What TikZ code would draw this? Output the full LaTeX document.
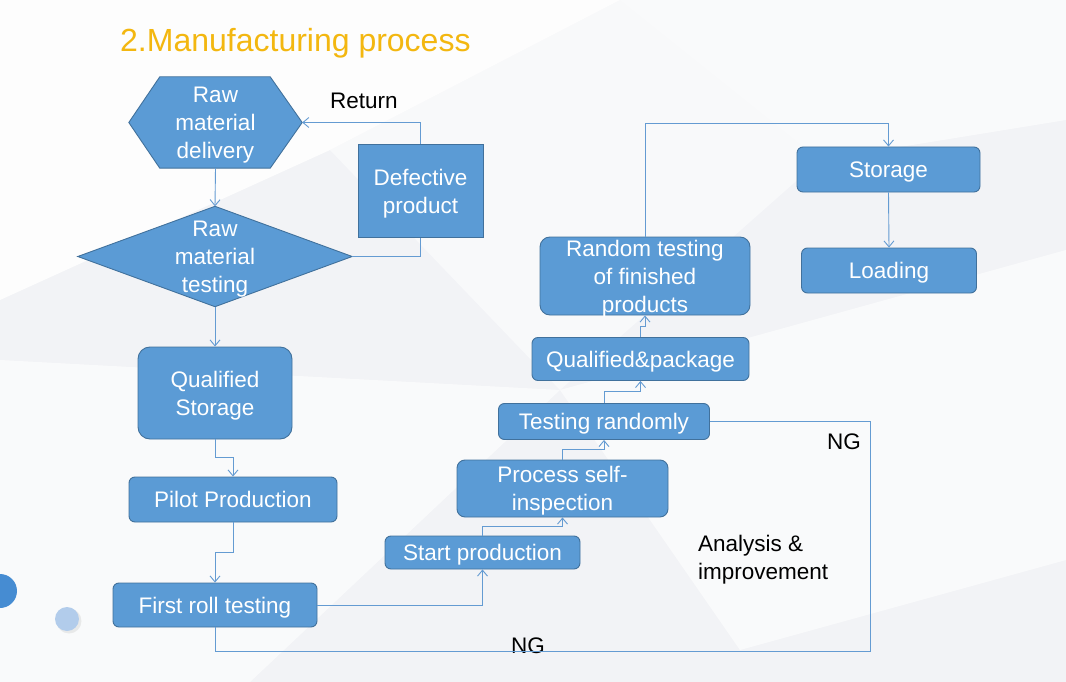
\documentclass[tikz,border=0pt]{standalone}
\usepackage{fontspec}
\setmainfont{Liberation Sans}
\usetikzlibrary{arrows.meta,calc}
\definecolor{nodefill}{RGB}{91,155,213}
\definecolor{nodeline}{RGB}{65,113,156}
\definecolor{conncol}{RGB}{100,155,210}
\definecolor{titlecol}{RGB}{243,183,16}
\definecolor{bggray}{RGB}{242,243,246}
\definecolor{dotblue}{RGB}{70,140,210}
\definecolor{dotlight}{RGB}{178,204,235}
\pgfdeclarelayer{bg}
\pgfdeclarelayer{shapes}
\pgfsetlayers{bg,shapes,main}
\tikzset{
  txt/.style={text=white, inner sep=0pt, align=center, text depth=0pt, font=\fontsize{22.5}{28}\selectfont},
  box/.style={txt, draw=nodeline, fill=nodefill, line width=0.9pt},
  rbox/.style={box, rounded corners=6pt},
  polyfill/.style={draw=nodeline, fill=nodefill, line width=0.9pt, line join=miter},
  conn/.style={draw=conncol, line width=0.9pt},
  arr/.style={conn, -{Straight Barb[length=6pt,width=10pt,line width=0.9pt]}},
  lbl/.style={text=black, inner sep=0pt, align=left, font=\fontsize{22.5}{28}\selectfont},
}
\begin{document}
\begin{tikzpicture}[x=1pt,y=-1pt]
\useasboundingbox (0,0) rectangle (1066,682);
\begin{pgfonlayer}{bg}
  \fill[bggray] (0,0) rectangle (1066,682);
  \fill[white,opacity=0.85] (0,0) -- (620,0) -- (330,150) -- (0,300) -- cycle;
  \fill[white,opacity=0.6] (0,360) -- (560,390) -- (250,682) -- (0,682) -- cycle;
  \fill[white,opacity=0.6] (620,0) -- (1066,0) -- (1066,120) -- (820,160) -- cycle;
  \fill[white,opacity=0.6] (560,390) -- (1066,250) -- (1066,560) -- (740,650) -- cycle;
  \fill[white,opacity=0.5] (330,150) -- (620,0) -- (820,160) -- (560,390) -- cycle;
  \fill[dotblue] (0,591) circle (17);
  \fill[black!15,opacity=0.5] (69,621) circle (12.5);
  \fill[dotlight] (67,619) circle (12);
\end{pgfonlayer}

% title
\node[anchor=base west, inner sep=0pt, text=titlecol, font=\fontsize{32}{36}\selectfont] (title) at (120,52) {2.Manufacturing process};

% nodes
\node[txt, minimum width=173, minimum height=91] (rmd) at (215.5,122.5) {Raw\\material\\delivery};
\node[txt, minimum width=274, minimum height=100] (rmt) at (215,256.5) {Raw\\material\\testing};
\node[box, minimum width=125, minimum height=93] (dp) at (420.5,191) {Defective\\product};
\node[box, rounded corners=12pt, minimum width=154, minimum height=92] (qs) at (215,393) {Qualified\\Storage};
\node[rbox, minimum width=208, minimum height=45] (pp) at (233,499.5) {Pilot Production};
\node[rbox, minimum width=204, minimum height=44] (fr) at (215,605) {First roll testing};
\node[rbox, minimum width=195, minimum height=33] (sp) at (482.5,552.5) {Start production};
\node[rbox, rounded corners=8pt, minimum width=211, minimum height=57] (psi) at (562.5,488.5) {Process self-\\inspection};
\node[rbox, minimum width=211, minimum height=36] (tr) at (604,421.5) {Testing randomly};
\node[rbox, minimum width=217, minimum height=43] (qp) at (640.5,359) {Qualified\&package};
\node[rbox, rounded corners=10pt, minimum width=210, minimum height=78] (rt) at (645,276) {Random testing\\of finished\\products};
\node[rbox, minimum width=183, minimum height=45] (st) at (888.5,169.5) {Storage};
\node[rbox, minimum width=175, minimum height=45] (ld) at (889,270.5) {Loading};

% polygon shapes
\begin{pgfonlayer}{shapes}
  \path[polyfill] (rmd.west) -- ([xshift=31]rmd.north west) -- ([xshift=-32]rmd.north east)
     -- (rmd.east) -- ([xshift=-32]rmd.south east) -- ([xshift=31]rmd.south west) -- cycle;
  \path[polyfill] (rmt.west) -- (rmt.north) -- (rmt.east) -- (rmt.south) -- cycle;
\end{pgfonlayer}

% labels
\node[lbl, anchor=base west] (ret) at (330,109) {Return};
\node[lbl, anchor=base west] (ng1) at (827,449) {NG};
\node[lbl, anchor=base west] (ng2) at (511,653) {NG};
\node[lbl, anchor=north west] (ana) at (698,535) {Analysis \&\\improvement};

% connectors
\draw[arr] (rmd.south) -- (rmt.north);
\draw[arr] (rmt.south) -- (qs.north);
\draw[conn] (rmt.east) -| (dp.south);
\draw[arr] (dp.north) |- (rmd.east);
\draw[arr] (qs.south) -- ++(0,18) -| (pp.north);
\draw[arr] (pp.south) -- ++(0,30) -| (fr.north);
\draw[arr] (fr.east) -| (sp.south);
\draw[arr] (sp.north) -- ++(0,-9) -| (psi.south);
\draw[arr] (psi.north) -- ++(0,-10) -| (tr.south);
\draw[arr] (tr.north) -- ++(0,-12) -| (qp.south);
\draw[arr] (qp.north) -- ++(0,-11) -| (rt.south);
\draw[arr] (rt.north) -- ++(0,-113) -| (st.north);
\draw[arr] (st.south) -- (ld.north);
\coordinate (ngc) at (870,651);
\draw[conn] (tr.east) -| (ngc) -| (fr.south);
\end{tikzpicture}
\end{document}
